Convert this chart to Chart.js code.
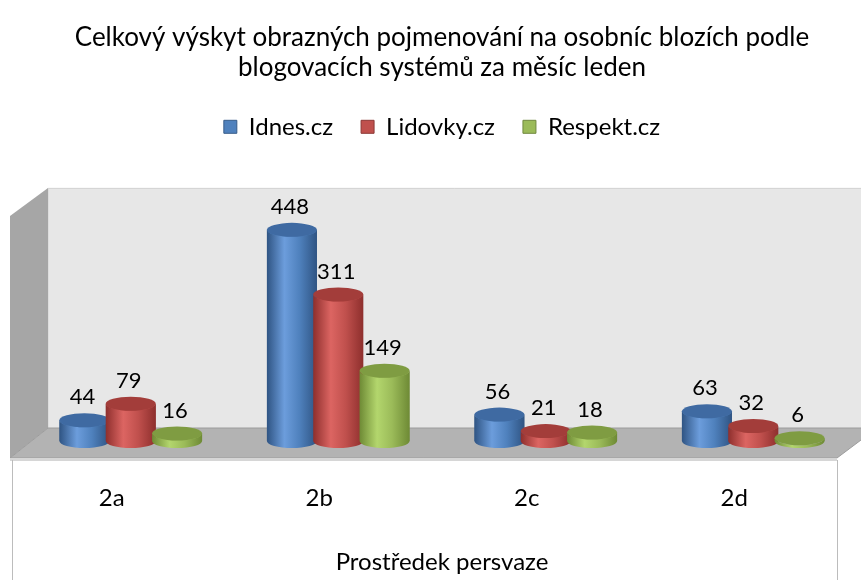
<!DOCTYPE html>
<html lang="cs">
  <head>
    <meta charset="UTF-8" />
    <title>Celkový výskyt obrazných pojmenování</title>
    <style>
      html,
      body {
        margin: 0;
        padding: 0;
        background-color: #ffffff;
      }
      .chart {
        width: 861px;
        height: 580px;
      }
    </style>
    <script src="https://cdn.jsdelivr.net/npm/chart.js"></script>
  </head>
  <body>
    <div class="chart">
      <canvas id="myChart"></canvas>
    </div>
    <script>
      const categories = ["2a", "2b", "2c", "2d"];
      const seriesNames = ["Idnes.cz", "Lidovky.cz", "Respekt.cz"];
      const idnes = [44, 448, 56, 63];
      const lidovky = [79, 311, 21, 32];
      const respekt = [16, 149, 18, 6];

      const FONT = "Lato, 'Open Sans', sans-serif";
      // cylinder shading per series
      const palette = [
        { base: "#4f81bd", light: "#6c9ddc", dark: "#2f5483", top: "#3f6aa2", border: "#385d8a" },
        { base: "#c0504d", light: "#dc6562", dark: "#8e2f2d", top: "#a33d3a", border: "#8c3836" },
        { base: "#9bbb59", light: "#b3d66d", dark: "#6e8a35", top: "#7f9c42", border: "#71893f" }
      ];
      const WALL_TOP = 537; // value where the back wall ends

      // walls, floor and cylinder shapes drawn on top of the bar elements
      const cylinders = {
        id: "cylinders",
        beforeDatasetsDraw(chart) {
          const ctx = chart.ctx;
          const a = chart.chartArea;
          const W = chart.width;
          const top = chart.scales.y.getPixelForValue(WALL_TOP);
          const wallX = a.left + 21;
          const sideX = a.left - 17;
          const back = a.bottom - 13;
          const front = a.bottom + 17;
          const frontRight = a.right - 20;
          ctx.save();
          // back wall
          ctx.fillStyle = "#e7e7e7";
          ctx.fillRect(wallX, top, W - wallX, back - top);
          ctx.strokeStyle = "#d4d4d4";
          ctx.lineWidth = 1;
          ctx.beginPath();
          ctx.moveTo(wallX, back);
          ctx.lineTo(wallX, top + 0.5);
          ctx.lineTo(W, top + 0.5);
          ctx.stroke();
          // left side wall
          ctx.fillStyle = "#a6a6a6";
          ctx.beginPath();
          ctx.moveTo(sideX, top + 28);
          ctx.lineTo(wallX, top);
          ctx.lineTo(wallX, back);
          ctx.lineTo(sideX, front);
          ctx.closePath();
          ctx.fill();
          // floor
          ctx.fillStyle = "#b3b3b3";
          ctx.beginPath();
          ctx.moveTo(wallX, back);
          ctx.lineTo(frontRight + 40, back);
          ctx.lineTo(frontRight, front);
          ctx.lineTo(sideX, front);
          ctx.closePath();
          ctx.fill();
          ctx.strokeStyle = "#9c9c9c";
          ctx.stroke();
          // floor front edge
          ctx.fillStyle = "#d6d6d6";
          ctx.fillRect(sideX, front, frontRight - sideX, 3);
          // frame lines under the floor
          ctx.strokeStyle = "#bcbcbc";
          ctx.beginPath();
          ctx.moveTo(sideX + 2.5, front + 2);
          ctx.lineTo(sideX + 2.5, chart.height);
          ctx.moveTo(frontRight + 0.5, front + 2);
          ctx.lineTo(frontRight + 0.5, chart.height);
          ctx.stroke();
          ctx.restore();
        },
        afterDatasetsDraw(chart) {
          const ctx = chart.ctx;
          const ry = 7;
          ctx.save();
          // first series first, so later series overlap it
          chart.data.datasets.forEach((ds, di) => {
            const meta = chart.getDatasetMeta(di);
            const c = palette[di];
            meta.data.forEach((bar, i) => {
              const { x, y, base, width } = bar.getProps(["x", "y", "base", "width"], true);
              const rx = width / 2;
              const left = x - rx;
              const right = x + rx;
              const g = ctx.createLinearGradient(left, 0, right, 0);
              g.addColorStop(0, c.dark);
              g.addColorStop(0.35, c.light);
              g.addColorStop(0.65, c.base);
              g.addColorStop(1, c.dark);
              ctx.fillStyle = g;
              ctx.beginPath();
              ctx.moveTo(left, y);
              ctx.lineTo(left, base);
              ctx.ellipse(x, base, rx, ry, 0, Math.PI, 0, true);
              ctx.lineTo(right, y);
              ctx.ellipse(x, y, rx, ry, 0, 0, Math.PI, false);
              ctx.closePath();
              ctx.fill();
              // top cap
              ctx.fillStyle = c.top;
              ctx.beginPath();
              ctx.ellipse(x, y, rx, ry, 0, 0, Math.PI * 2);
              ctx.fill();
            });
          });
          // value labels
          ctx.fillStyle = "#000000";
          ctx.font = "22px " + FONT;
          ctx.textAlign = "center";
          ctx.textBaseline = "middle";
          chart.data.datasets.forEach((ds, di) => {
            chart.getDatasetMeta(di).data.forEach((bar, i) => {
              const { x, y } = bar.getProps(["x", "y"], true);
              ctx.fillText(String(ds.data[i]), x - 2, y - 23);
            });
          });
          ctx.restore();
        }
      };

      const seriesData = [idnes, lidovky, respekt];
      const config = {
        type: "bar",
        data: {
          labels: categories,
          datasets: seriesNames.map((name, i) => ({
            label: name,
            data: seriesData[i],
            backgroundColor: palette[i].base,
            borderColor: palette[i].border,
            borderWidth: 1,
            barPercentage: 1.08,
            categoryPercentage: 0.67
          }))
        },
        options: {
          responsive: true,
          maintainAspectRatio: false,
          animation: false,
          layout: { padding: { left: 27, right: 4, top: 0, bottom: 0 } },
          plugins: {
            title: {
              display: true,
              text: [
                "Celkový výskyt obrazných pojmenování na osobníc blozích podle",
                "blogovacích systémů za měsíc leden"
              ],
              color: "#000000",
              font: { family: FONT, size: 26, weight: "normal", lineHeight: 1.15 },
              padding: { top: 23, bottom: 4 }
            },
            legend: {
              position: "top",
              labels: {
                color: "#000000",
                font: { family: FONT, size: 24 },
                boxWidth: 13,
                boxHeight: 13,
                padding: 28
              }
            },
            tooltip: { enabled: false }
          },
          scales: {
            x: {
              grid: { display: false },
              border: { display: false },
              ticks: {
                color: "#000000",
                font: { family: FONT, size: 24 },
                labelOffset: -19,
                padding: 35
              },
              title: {
                display: true,
                text: "Prostředek persvaze",
                color: "#000000",
                font: { family: FONT, size: 24 },
                padding: { top: 0, bottom: 3 }
              },
              afterFit: (scale) => {
                scale.height = 139;
              }
            },
            y: {
              display: false,
              min: 0,
              max: 620
            }
          }
        },
        plugins: [cylinders]
      };
      const myChart = new Chart(document.getElementById("myChart"), config);
    </script>
  </body>
</html>
